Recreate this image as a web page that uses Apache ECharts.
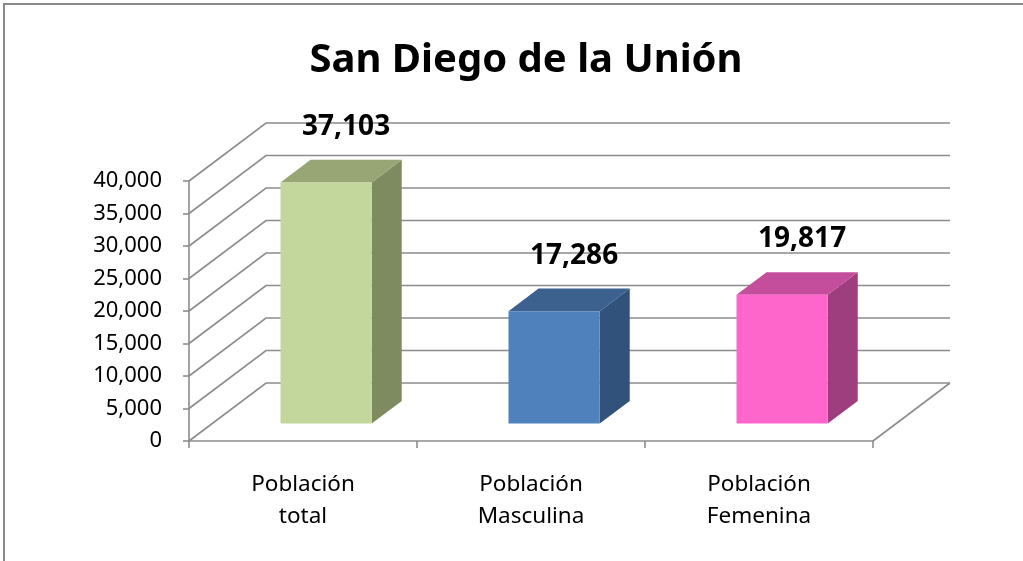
<!DOCTYPE html>
<html>
<head>
<meta charset="utf-8">
<script src="https://cdn.jsdelivr.net/npm/echarts@6/dist/echarts.min.js"></script>
<style>
  html, body { margin: 0; padding: 0; background: #fff; }
  #chart { width: 1023px; height: 561px; }
</style>
</head>
<body>
<div id="chart"></div>
<script>
const categories = ["Población\ntotal", "Población\nMasculina", "Población\nFemenina"];
const values = [37103, 17286, 19817];
const yTicks = [0, 5000, 10000, 15000, 20000, 25000, 30000, 35000, 40000];

const frontColors = ["#c3d69b", "#4f81bd", "#ff66cc"];
const topColors = ["#98a676", "#3c618e", "#c44d9c"];
const sideColors = ["#7e8a5f", "#31527b", "#9f3e7f"];

// depth of the 3d box in pixels (floor goes back-right)
const DX = 77;
const DY = -58;
const FRONT = 0.3;
const BACK = 0.69;
const FONT = "Noto Sans";

const chart = echarts.init(document.getElementById("chart"));

function fmt(v) {
  return v.toLocaleString("en-US");
}

function renderGrid(params, api) {
  const cs = params.coordSys;
  const v = api.value(1);
  const y = api.coord([0, v])[1];
  const x0 = cs.x;
  const x1 = cs.x + cs.width;
  const style = { stroke: "#8c8c8c", lineWidth: 1.6, fill: null };
  const children = [
    {
      type: "polyline",
      shape: { points: [[x0, y], [x0 + DX, y + DY], [x1 + DX, y + DY]] },
      style: style
    }
  ];
  if (v === 0) {
    children.push({
      type: "line",
      shape: { x1: x1 + DX, y1: y + DY, x2: x1, y2: y },
      style: style
    });
  }
  return { type: "group", children: children };
}

function renderBar(params, api) {
  const i = api.value(0);
  const v = api.value(1);
  const base = api.coord([i, 0]);
  const top = api.coord([i, v]);
  const bw = api.size([1, 0])[0] * 0.4;
  const xl = base[0] - bw / 2;
  const xr = base[0] + bw / 2;
  const fx = FRONT * DX, fy = FRONT * DY;
  const bx = BACK * DX, by = BACK * DY;
  return {
    type: "group",
    children: [
      {
        type: "polygon",
        shape: {
          points: [
            [xr + fx, top[1] + fy], [xr + bx, top[1] + by],
            [xr + bx, base[1] + by], [xr + fx, base[1] + fy]
          ]
        },
        style: { fill: sideColors[i] }
      },
      {
        type: "polygon",
        shape: {
          points: [
            [xl + fx, top[1] + fy], [xl + bx, top[1] + by],
            [xr + bx, top[1] + by], [xr + fx, top[1] + fy]
          ]
        },
        style: { fill: topColors[i] }
      },
      {
        type: "rect",
        shape: { x: xl + fx, y: top[1] + fy, width: bw, height: base[1] - top[1] },
        style: { fill: frontColors[i] }
      },
      {
        type: "text",
        style: {
          text: fmt(v),
          x: base[0] + 0.56 * DX,
          y: top[1] - 73,
          align: "center",
          verticalAlign: "middle",
          font: "bold 28px '" + FONT + "'",
          fill: "#000"
        }
      }
    ]
  };
}

chart.setOption({
  animation: false,
  backgroundColor: "#fff",
  title: {
    text: "San Diego de la Unión",
    left: 521,
    top: 28,
    textAlign: "center",
    textStyle: {
      fontFamily: FONT,
      fontSize: 40,
      fontWeight: "bold",
      color: "#000",
      lineHeight: 56
    }
  },
  graphic: [
    {
      type: "rect",
      shape: { x: 4, y: 4, width: 1100, height: 700 },
      style: { fill: null, stroke: "#898989", lineWidth: 2 },
      silent: true
    }
  ],
  grid: { left: 189, right: 150, top: 181, bottom: 120 },
  xAxis: {
    type: "category",
    data: categories,
    axisLine: { lineStyle: { color: "#8c8c8c", width: 1.6 } },
    axisTick: { show: true, length: 7, lineStyle: { color: "#8c8c8c", width: 1.6 } },
    axisLabel: {
      fontFamily: FONT,
      fontSize: 22.5,
      color: "#000",
      lineHeight: 32,
      margin: 28
    }
  },
  yAxis: {
    type: "value",
    min: 0,
    max: 40000,
    interval: 5000,
    axisLine: { show: true, lineStyle: { color: "#8c8c8c", width: 1.6 } },
    axisTick: { show: true, length: 6, lineStyle: { color: "#8c8c8c", width: 1.6 } },
    splitLine: { show: false },
    axisLabel: {
      fontFamily: FONT,
      fontSize: 22,
      color: "#000",
      margin: 27,
      formatter: fmt
    }
  },
  series: [
    {
      type: "custom",
      renderItem: renderGrid,
      data: yTicks.map(v => [0, v]),
      silent: true,
      z: 1
    },
    {
      type: "custom",
      renderItem: renderBar,
      data: values.map((v, i) => [i, v]),
      z: 3
    }
  ]
});
</script>
</body>
</html>
